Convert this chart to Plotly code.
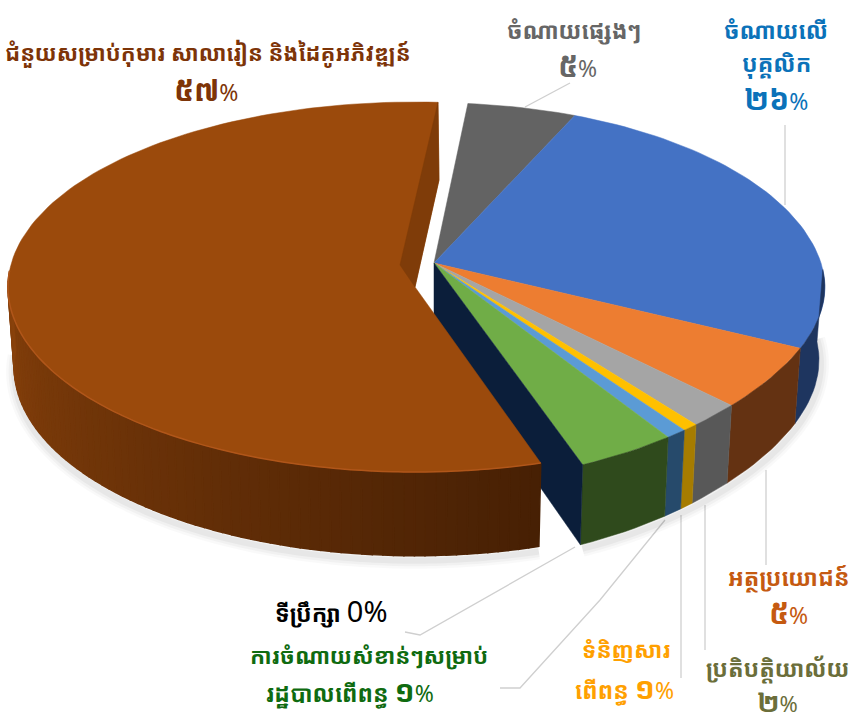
import math
import plotly.graph_objects as go

# ---- data ----
categories = ["Brown", "Other", "Staff", "Benefits", "Office", "Goods", "Advisor", "Admin"]
values = [55.9, 5.2, 25.4, 5.3, 2.0, 0.6, 0.8, 3.7]
top_colors = ["#9b4a0c", "#636363", "#4472c4", "#ed7d31", "#a5a5a5", "#ffc000", "#5b9bd5", "#70ad47"]
wall_colors = ["#5a2a08", "#4f4f4f", "#1e355f", "#643212", "#585858", "#a67c00", "#264a6b", "#2f4a1c"]
brown_start = 162.0
main_start = 5.8


def pct(n, size=30):
    return f'<span style="font-size:{size}px">{n}</span><span style="font-weight:normal">%</span>'


label_lines = [
    ("ជំនួយសម្រាប់កុមារ សាលារៀន និងដៃគូអភិវឌ្ឍន៍", 208, 52, "#7d3408", 22),
    (pct("៥៧"), 206, 89, "#7d3408", 23),
    ("ចំណាយផ្សេងៗ", 574, 30, "#666666", 23),
    (pct("៥"), 577, 65, "#666666", 23),
    ("ចំណាយលើ", 776, 30, "#0b72b9", 23),
    ("បុគ្គលិក", 776, 63, "#0b72b9", 23),
    (pct("២៦"), 776, 98, "#0b72b9", 23),
    ("អត្ថប្រយោជន៍", 788, 577, "#c55a11", 23),
    (pct("៥"), 788, 612, "#c55a11", 23),
    ("ប្រតិបត្តិយាល័យ", 777, 668, "#6b6e3a", 23),
    (pct("២", 27), 777, 701, "#6b6e3a", 22),
    ("ទំនិញសារ", 626, 649, "#ffa000", 22.5),
    ("ពើពន្ធ " + pct("១"), 624, 687, "#ffa000", 23),
    ("ការចំណាយសំខាន់ៗសម្រាប់", 369, 655, "#0f6b10", 22.3),
    ("រដ្ឋបាលពើពន្ធ " + pct("១"), 350, 690, "#0f6b10", 23),
    ("ទីប្រឹក្សា <span style=\"font-weight:normal;font-size:29px\">0%</span>", 331, 610, "#000000", 23),
]
leaders = [
    [(525, 107), (570, 83)], [(785, 125), (785, 205)], [(766, 470), (766, 565)],
    [(705, 505), (705, 650)], [(681, 515), (681, 678)], [(665, 520), (600, 600), (520, 688), (500, 688)],
    [(575, 547), (420, 635), (405, 632)],
]

CX, CY, RX, RY, K = 434, 263, 387, 185, 0.155
BCX, BCY, BRX, BRY = 415, 287, 407, 185
FLATTEN = 0.028


def project(theta, r=1.0, cx=CX, cy=CY, rx=RX, ry=RY, k=K):
    deg = math.degrees(theta) % 360
    if k and 90 < deg < 180:
        r -= FLATTEN * math.sin(2 * (theta - math.pi / 2)) ** 2
    u, v = r * math.sin(theta), r * math.cos(theta)
    w = 1 + k * v
    return cx + rx * u / w, cy - ry * v / w


def lower(p, cx=CX, cy=CY, base=72, slope=0.04):
    dx, dy = p[0] - cx, p[1] - cy
    return cx + 0.985 * dx, p[1] + base + slope * dy


def arc(a0, a1, **kw):
    n = max(4, int(abs(a1 - a0) / 1.5))
    return [project(math.radians(a0 + (a1 - a0) * i / n), **kw) for i in range(n + 1)]


fig = go.Figure()


def poly(pts, color, width=0.5):
    xs = [p[0] for p in pts] + [pts[0][0]]
    ys = [p[1] for p in pts] + [pts[0][1]]
    fig.add_trace(go.Scatter(x=xs, y=ys, mode="lines", fill="toself", fillcolor=color,
                             line=dict(color=color, width=width),
                             hoverinfo="skip", showlegend=False))


def stroke(pts, color, width):
    fig.add_trace(go.Scatter(x=[p[0] for p in pts], y=[p[1] for p in pts], mode="lines",
                             line=dict(color=color, width=width, shape="spline"),
                             hoverinfo="skip", showlegend=False))


# slice angles from the values
angles = []
a = main_start
for val in values[1:]:
    angles.append((a, a + val * 3.6))
    a += val * 3.6
brown_end = brown_start + values[0] * 3.6
bkw = dict(cx=BCX, cy=BCY, rx=BRX, ry=BRY, k=0.0)
brown_arc = arc(brown_start, brown_end, **bkw)
brown_front = arc(brown_start, 275, **bkw)
brown_low = [lower(p, BCX, BCY, 80, 0.02) for p in brown_front]
main_low = [lower(p) for p in arc(90, angles[-1][1])]

# soft shadow under the pie
for w, op in ((16, 0.025), (11, 0.03), (6, 0.04)):
    stroke([(x, y + 5) for x, y in brown_low], f"rgba(0,0,0,{op})", w)
    stroke([(x + 2, y + 4) for x, y in main_low], f"rgba(0,0,0,{op})", w)

# main body tops
for i, (a0, a1) in enumerate(angles, start=1):
    poly([(CX, CY)] + arc(a0, a1), top_colors[i])

# outer wall of main body
for i, (a0, a1) in enumerate(angles, start=1):
    if a1 < 92:
        continue
    top = arc(max(a0, 92), a1)
    poly(top + [lower(p) for p in reversed(top)], wall_colors[i])

# cut face of main body at the front
edge = project(math.radians(angles[-1][1]))
poly([(CX, CY), edge, lower(edge), (CX, CY + 72)], "#0b1e3a")

# brown slice: outer wall with shading, top, rim highlight, inner dark facet
n = len(brown_front) - 1
c0, c1 = (0x47, 0x20, 0x04), (0x88, 0x41, 0x0b)
for i in range(n):
    t = i / max(1, n - 1)
    col = "rgb(%d,%d,%d)" % tuple(round(c0[k] + (c1[k] - c0[k]) * t) for k in range(3))
    seg = brown_front[i:i + 2]
    poly(seg + [lower(p, BCX, BCY, 80, 0.02) for p in reversed(seg)], col, 1.5)
back = brown_arc[-1]
poly([(BCX, BCY)] + brown_arc + [(439, 180)], top_colors[0])
poly([back, (439, 180), (BCX, BCY), (400, 265)], "#7f3c09")
stroke(brown_front, "#b0561a", 1.5)

shapes = []
for pts in leaders:
    d = "M" + " L".join(f"{x},{y}" for x, y in pts)
    shapes.append(dict(type="path", path=d, line=dict(color="#cfcfcf", width=1.3), layer="below"))

annotations = [dict(x=x, y=y, text=f"<b>{t}</b>", showarrow=False, xanchor="center", yanchor="middle",
                    font=dict(size=s, color=c, family="Noto Sans Khmer, Khmer OS, Noto Sans, sans-serif"))
               for t, x, y, c, s in label_lines]

fig.update_layout(
    width=852, height=720, margin=dict(l=0, r=0, t=0, b=0), paper_bgcolor="white", plot_bgcolor="white",
    xaxis=dict(range=[0, 852], visible=False, fixedrange=True),
    yaxis=dict(range=[720, 0], visible=False, fixedrange=True),
    shapes=shapes, annotations=annotations, showlegend=False,
)
fig.write_html("out.html", post_script="document.body.style.margin='0';document.body.style.overflow='hidden';",
               config={"displayModeBar": False})
